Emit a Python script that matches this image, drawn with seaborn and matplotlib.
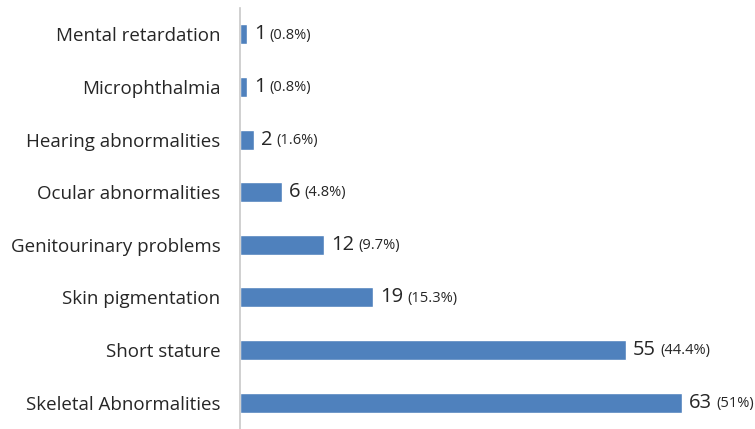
import matplotlib
matplotlib.use("Agg")
import matplotlib.pyplot as plt
import seaborn as sns
import pandas as pd

categories = ["Mental retardation", "Microphthalmia", "Hearing abnormalities",
              "Ocular abnormalities", "Genitourinary problems", "Skin pigmentation",
              "Short stature", "Skeletal Abnormalities"]
counts = [1, 1, 2, 6, 12, 19, 55, 63]
percents = ["0.8%", "0.8%", "1.6%", "4.8%", "9.7%", "15.3%", "44.4%", "51%"]

df = pd.DataFrame({"category": categories, "count": counts})

sns.set_style("white")
plt.rcParams['font.family'] = ['Open Sans', 'DejaVu Sans']

fig = plt.figure(figsize=(7.55, 4.29), dpi=100)
ax = fig.add_axes([240/755, 0.0, (731-240)/755, 1 - 8/429])
sns.barplot(data=df, x="count", y="category", orient="h", color="#4F81BD",
            saturation=1, width=0.38, ax=ax)
ax.set_xlim(0, 70)
ax.set_ylim(7.5, -0.5)
ax.set_xlabel("")
ax.set_ylabel("")
ax.set_xticks([])
for s in ["top", "right", "bottom"]:
    ax.spines[s].set_visible(False)
ax.spines["left"].set_color("#C8C8C8")
ax.spines["left"].set_linewidth(1.2)
ax.tick_params(axis="y", length=0, pad=14, labelsize=13.5, labelcolor="#262626")

for i, (c, p) in enumerate(zip(counts, percents)):
    t = ax.annotate(str(c), xy=(c, i), xytext=(5, 0), textcoords="offset points",
                    va="center", ha="left", fontsize=14.5, color="#262626")
    ax.annotate(f"({p})", xy=(1, 0.5), xycoords=t, xytext=(3, -0.5),
                textcoords="offset points", va="center", ha="left",
                fontsize=10.5, color="#262626")

fig.savefig("out.png", dpi=100)
